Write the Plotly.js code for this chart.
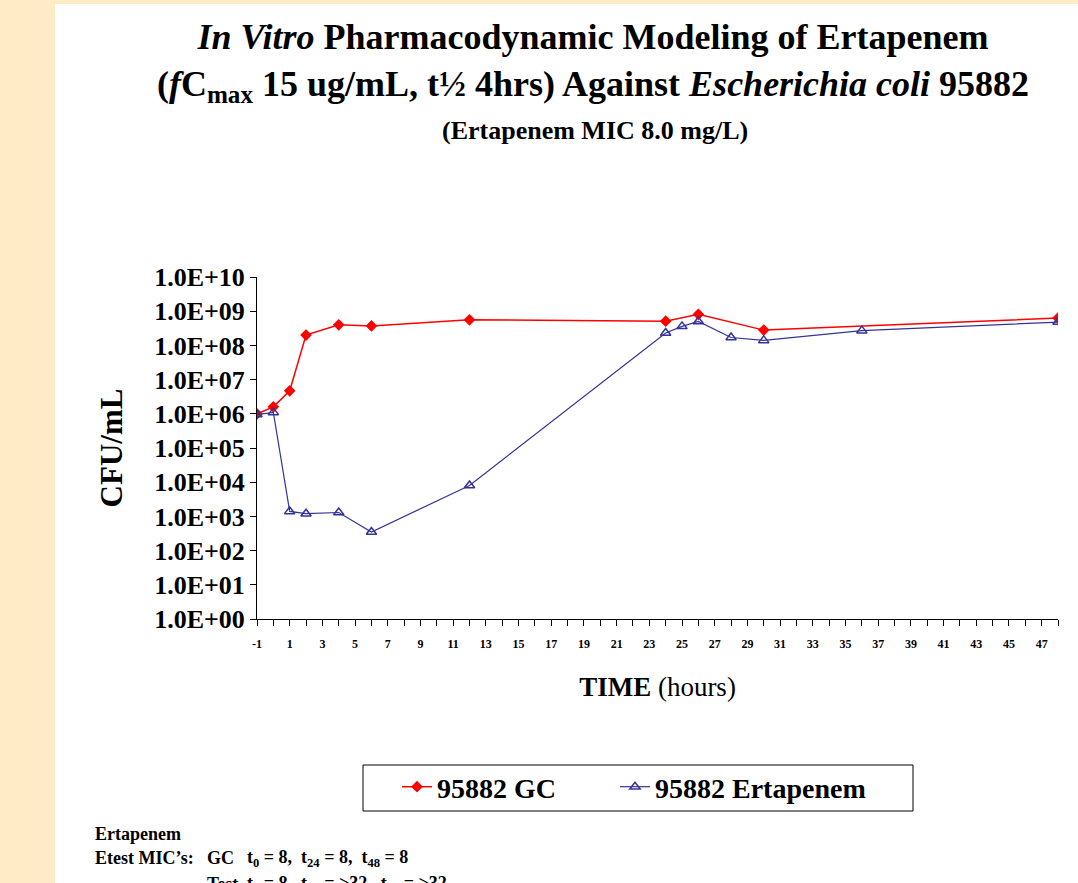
<!DOCTYPE html>
<html>
<head>
<meta charset="utf-8">
<script src="https://cdn.plot.ly/plotly-3.0.1.min.js"></script>
<style>
  html, body { margin: 0; padding: 0; background: #FFEBC6; width: 1078px; height: 883px; overflow: hidden; }
  #chart { position: absolute; left: 55px; top: 4px; width: 1023px; height: 879px; background: #ffffff; }
</style>
</head>
<body>
<div id="chart"></div>
<script>
// ---- data ----
const gcHours = [-1, 0, 1, 2, 4, 6, 12, 24, 26, 30, 48];
const gcCfu = [1.0e6, 1.6e6, 4.7e6, 2.0e8, 4.0e8, 3.7e8, 5.6e8, 5.1e8, 8.1e8, 2.8e8, 6.3e8];
const ertHours = [-1, 0, 1, 2, 4, 6, 12, 24, 25, 26, 28, 30, 36, 48];
const ertCfu = [9.5e5, 1.1e6, 1.4e3, 1.2e3, 1.3e3, 3.5e2, 8.0e3, 2.3e8, 3.6e8, 5.0e8, 1.7e8, 1.4e8, 2.7e8, 4.8e8];
const seriesNames = ['95882 GC', '95882 Ertapenem'];
const yTickVals = [1e0, 1e1, 1e2, 1e3, 1e4, 1e5, 1e6, 1e7, 1e8, 1e9, 1e10];
const yTickText = ['1.0E+00', '1.0E+01', '1.0E+02', '1.0E+03', '1.0E+04', '1.0E+05', '1.0E+06', '1.0E+07', '1.0E+08', '1.0E+09', '1.0E+10'];
const xTickVals = [-1, 1, 3, 5, 7, 9, 11, 13, 15, 17, 19, 21, 23, 25, 27, 29, 31, 33, 35, 37, 39, 41, 43, 45, 47];
const xTickText = xTickVals.map(String);

const serif = 'Liberation Serif, Times New Roman, serif';

const traces = [
  {
    x: gcHours, y: gcCfu, name: seriesNames[0], type: 'scatter', mode: 'lines+markers',
    line: { color: '#FF0000', width: 1.5 },
    marker: { symbol: 'diamond', size: 9, color: '#FF0000' },
    legend: 'legend'
  },
  {
    x: ertHours, y: ertCfu, name: seriesNames[1], type: 'scatter', mode: 'lines+markers',
    line: { color: '#333399', width: 1.2 },
    marker: { symbol: 'triangle-up-open', size: 9, color: '#333399', line: { width: 1.5 } },
    legend: 'legend2'
  }
];

// pixel helpers (page coordinates) -> paper fractions
const L = 202, R = 20, T = 273, B = 264, W = 1023, H = 879;
const pw = W - L - R, ph = H - T - B;
const px = (x) => (x - 55 - L) / pw;
const py = (y) => (H - B - (y - 4)) / ph;

const legendFont = { family: serif, size: 28, weight: 'bold' };

const layout = {
  width: W, height: H,
  margin: { l: L, r: R, t: T, b: B },
  paper_bgcolor: '#ffffff',
  plot_bgcolor: '#ffffff',
  font: { family: serif, color: '#000000' },
  showlegend: true,
  title: {
    text: '<i>In Vitro</i> <b>Pharmacodynamic Modeling of Ertapenem</b><br><b>(<i>f</i>C<sub>max</sub> 15 ug/mL, t½ 4hrs) Against <i>Escherichia coli</i> 95882</b>',
    font: { family: serif, size: 36, color: '#000000', weight: 'bold' },
    x: (593 - 55) / W, xanchor: 'center', xref: 'container',
    y: 1 - 45 / H, yanchor: 'top', yref: 'container'
  },
  xaxis: {
    range: [-1, 48],
    tickmode: 'array', tickvals: xTickVals, ticktext: xTickText,
    ticks: 'outside', ticklen: 6, tickwidth: 1, tickcolor: '#000',
    minor: { dtick: 1, ticks: 'outside', ticklen: 6, tickwidth: 1, tickcolor: '#000' },
    tickfont: { family: serif, size: 12, weight: 'bold' },
    ticklabelstandoff: 8,
    showline: true, linecolor: '#000', linewidth: 1,
    showgrid: false, zeroline: false,
    title: { text: '<b>TIME</b> (hours)', font: { family: serif, size: 27 }, standoff: 26 }
  },
  yaxis: {
    type: 'log', range: [0, 10],
    tickmode: 'array', tickvals: yTickVals, ticktext: yTickText,
    ticks: 'outside', ticklen: 6, tickwidth: 1, tickcolor: '#000',
    tickfont: { family: serif, size: 26, weight: 'bold' },
    ticklabelstandoff: 0,
    showline: true, linecolor: '#000', linewidth: 1,
    showgrid: false, zeroline: false,
    title: { text: '<b>CFU/mL</b>', font: { family: serif, size: 31 }, standoff: 22 }
  },
  legend: {
    orientation: 'h',
    x: px(397), xanchor: 'left',
    y: py(762), yanchor: 'top',
    borderwidth: 0, bgcolor: 'rgba(0,0,0,0)',
    font: legendFont,
    itemwidth: 30
  },
  legend2: {
    orientation: 'h',
    x: px(615), xanchor: 'left',
    y: py(762), yanchor: 'top',
    borderwidth: 0, bgcolor: 'rgba(0,0,0,0)',
    font: legendFont,
    itemwidth: 30
  },
  shapes: [
    { type: 'rect', xref: 'paper', yref: 'paper', x0: px(363), x1: px(913), y0: py(765), y1: py(811),
      line: { color: '#000', width: 1 }, fillcolor: 'rgba(0,0,0,0)', layer: 'below' }
  ],
  annotations: [
    { text: '<b>(Ertapenem MIC 8.0 mg/L)</b>', xref: 'paper', yref: 'paper', x: px(595), y: py(130),
      xanchor: 'center', yanchor: 'middle', showarrow: false, font: { family: serif, size: 26 } },
    { text: '<b>Ertapenem</b>', xref: 'paper', yref: 'paper', x: px(93), y: py(834),
      xanchor: 'left', yanchor: 'middle', showarrow: false, font: { family: serif, size: 18 } },
    { text: '<b>Etest MIC’s:</b>', xref: 'paper', yref: 'paper', x: px(93), y: py(858),
      xanchor: 'left', yanchor: 'middle', showarrow: false, font: { family: serif, size: 18 } },
    { text: '<b>GC</b>', xref: 'paper', yref: 'paper', x: px(205), y: py(858),
      xanchor: 'left', yanchor: 'middle', showarrow: false, font: { family: serif, size: 18 } },
    { text: '<b>t<sub>0</sub> = 8,  t<sub>24</sub> = 8,  t<sub>48</sub> = 8</b>', xref: 'paper', yref: 'paper', x: px(245), y: py(858),
      xanchor: 'left', yanchor: 'middle', showarrow: false, font: { family: serif, size: 18 } },
    { text: '<b>Test</b>', xref: 'paper', yref: 'paper', x: px(205), y: py(884),
      xanchor: 'left', yanchor: 'middle', showarrow: false, font: { family: serif, size: 18 } },
    { text: '<b>t<sub>0</sub> = 8,  t<sub>24</sub> = >32,  t<sub>48</sub> = >32</b>', xref: 'paper', yref: 'paper', x: px(245), y: py(884),
      xanchor: 'left', yanchor: 'middle', showarrow: false, font: { family: serif, size: 18 } }
  ]
};

Plotly.newPlot('chart', traces, layout, { displayModeBar: false, responsive: false });
</script>
</body>
</html>
